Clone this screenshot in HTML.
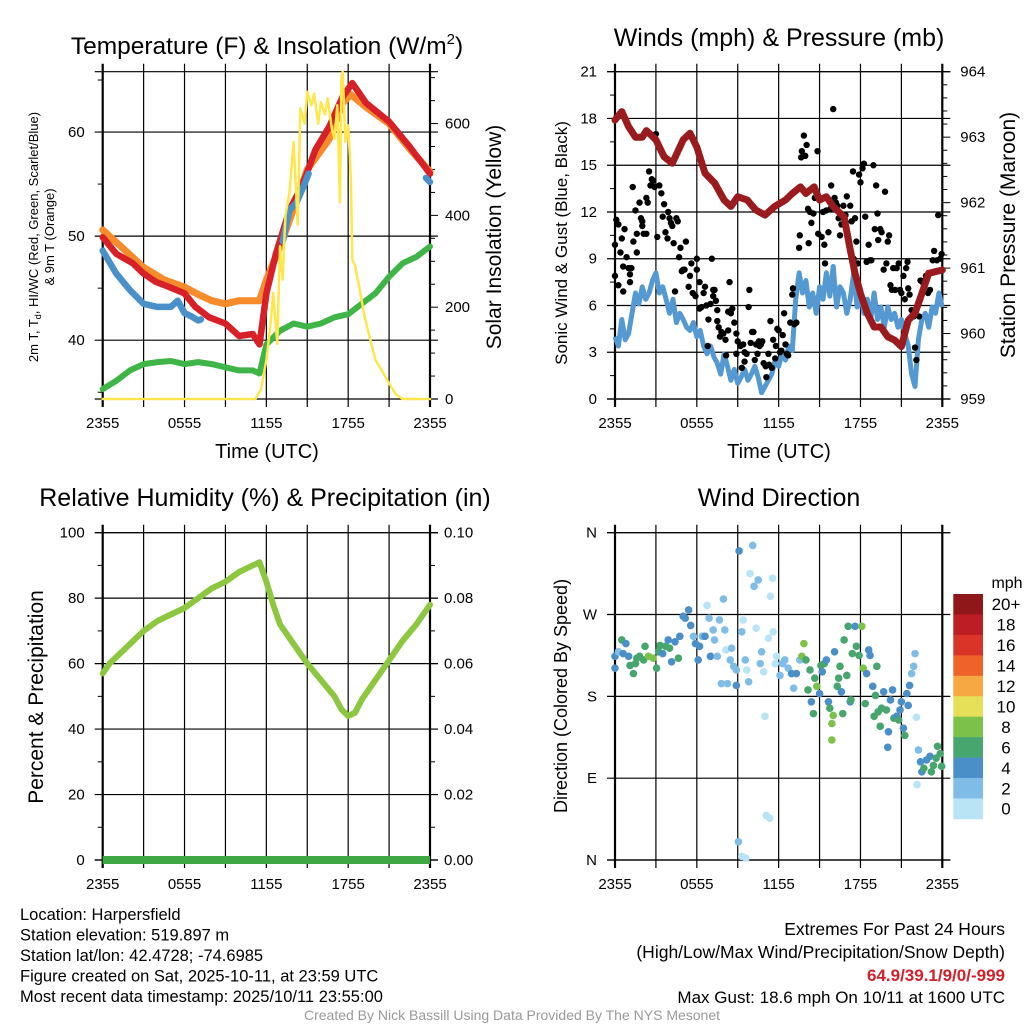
<!DOCTYPE html>
<html><head><meta charset="utf-8"><style>
html,body{margin:0;padding:0;background:#fff}
svg{display:block;font-family:"Liberation Sans",Arial,sans-serif}
</style></head><body>
<svg id="c" width="1024" height="1024" viewBox="0 0 1024 1024">
<rect width="1024" height="1024" fill="#fff"/>
</svg>
<script>
// ---------- DATA ----------
const tempHours=[0,1,2.2,3,3.9,4.9,6,6.8,7.8,9,10,11,11.5,12,12.7,13.7,14.7,15.6,16.6,17.6,18.3,19.3,21,22.5,24];
const tempRed=[49.9,48.3,47.4,46.4,45.6,45.1,44.5,43.2,42.2,41.6,40.4,40.6,39.6,44.5,48.3,52.5,55.1,58.3,60.5,63.4,64.7,62.8,61.0,58.6,56.0];
const orangeHours=[0,1.5,3,4.5,6,7,8,9,10,11.5,12,13,13.7,15,16.6,17.6,18.2,19.3,21,22.5,24];
const tempOrange=[50.6,48.8,47.0,45.8,45.1,44.4,43.8,43.5,43.8,43.8,45.8,49.0,51.5,56.4,59.3,62.8,63.6,62.4,60.8,58.4,56.2];
const blueHours=[0,1,2,3,4,5,5.5,6,6.5,7,7.2,null,13.2,13.7,14.2,14.8,15.1,null,23.7,24];
const tempBlue=[48.6,46.4,44.8,43.5,43.2,43.2,43.8,42.6,42.3,41.9,42.0,null,49.5,52.5,53.2,55.0,56.0,null,55.6,55.2];
const dewHours=[0,1,2,3,4,5,6,7,8,9,10,11,11.5,12,13,14,15,16,17,18,19,20,21,22,23,24];
const tempDew=[35.3,36.1,37.1,37.7,37.9,38.0,37.7,37.9,37.7,37.4,37.1,37.1,36.8,39.6,40.9,41.6,41.3,41.6,42.2,42.5,43.5,44.5,46.1,47.4,48.0,49.0];
const solarHours=[0,11.2,11.6,12,12.3,12.5,12.8,13,13.2,13.4,13.7,14,14.3,14.5,14.8,15,15.3,15.5,15.8,16,16.3,16.5,16.8,17,17.2,17.4,17.5,17.6,17.8,18,18.2,18.3,18.5,18.8,19.2,19.5,20,20.5,21,21.5,22,24];
const solarVals=[0,0,20,85,160,231,120,333,260,400,450,560,380,633,600,669,640,665,600,647,620,655,590,567,640,428,700,713,560,596,480,304,290,246,180,144,85,60,34,10,0,0];
const windHours=[];for(let i=0;i<=96;i++)windHours.push(i*0.25);
const windSpeed=[4.0,3.4,5.1,3.8,4.2,5.5,6.8,6.1,7.2,6.4,6.8,7.6,8.1,6.8,7.2,6.4,5.5,6.4,4.9,5.5,5.1,4.6,4.4,4.9,4.0,4.4,3.4,2.9,3.4,2.7,2.3,1.6,2.9,2.1,1.2,1.9,1.0,1.4,1.9,1.2,1.6,2.1,1.4,0.4,0.8,1.2,1.6,2.5,2.1,2.9,2.5,3.4,3.1,6.4,8.1,6.8,7.6,5.9,6.8,5.5,7.2,6.4,8.1,6.6,8.5,5.9,7.2,6.8,5.5,6.4,8.1,5.9,6.8,5.5,6.4,5.1,6.8,5.1,5.9,4.6,5.9,5.1,5.5,4.6,5.1,4.2,3.4,1.6,0.8,3.8,5.1,5.5,4.6,5.9,5.5,6.8,5.9];
const gustHours=[0,0.1,0.25,0,0.4,0.5,0.25,0.6,0.6,0.7,0.85,1.0,1.1,1.1,1.2,1.35,1.5,1.3,1.6,1.6,1.8,1.9,2.0,2.0,2.1,2.3,2.3,2.4,2.5,2.6,2.7,2.8,2.9,3.0,3.1,3.25,3.4,3.5,3.6,3.7,3.85,3.9,4.0,4.1,4.2,4.3,4.4,4.5,4.6,4.7,4.8,4.9,5.0,5.1,5.2,5.4,5.5,5.6,5.7,5.9,6.0,6.0,6.2,6.2,6.35,6.5,6.6,6.7,6.8,6.85,7.0,7.1,7.2,7.2,7.3,7.4,7.5,7.5,7.6,7.7,7.8,7.95,8.1,8.15,8.3,8.3,8.4,8.5,8.6,8.75,8.9,8.9,9.0,9.2,9.3,9.4,9.5,9.5,9.65,9.8,9.85,9.95,10.05,10.15,10.25,10.35,10.45,10.55,10.6,10.7,10.8,10.9,11.05,11.1,11.25,11.3,11.4,11.5,11.6,11.75,11.8,11.9,12.0,12.1,12.2,12.3,12.4,12.5,12.6,12.7,12.85,13.0,13.05,13.15,13.3,13.5,13.55,13.65,13.7,13.85,14.05,13.95,14.15,14.2,14.3,14.4,14.55,14.65,14.85,14.9,15.0,15.15,15.25,15.35,15.4,15.5,15.65,15.8,15.85,16.0,16.1,16.2,16.3,16.4,16.5,16.6,16.75,16.9,17.0,17.1,17.25,17.35,17.45,17.5,17.6,17.7,17.8,17.9,18.0,18.15,18.25,18.35,18.45,18.6,18.7,18.8,18.95,19.05,19.15,19.25,19.3,19.45,19.55,19.7,19.8,19.9,20.0,20.1,20.2,20.3,20.4,20.55,20.65,20.8,20.9,21.0,21.15,21.25,21.35,21.45,21.5,21.6,21.75,21.9,22.0,22.1,22.3,22.4,22.55,22.7,22.8,22.95,23.1,23.3,23.4,23.6,23.7,23.85,23.95];
const gustSpeed=[9.9,11.5,11.2,7.9,9.4,10.3,7.3,6.9,8.5,10.9,9.1,8.4,8.0,7.5,8.4,10.1,12.1,13.6,10.6,9.4,12.6,11.6,11.4,11.1,10.6,10.6,12.9,12.6,14.6,13.7,14.1,14.0,13.6,17.0,10.4,13.7,13.2,11.7,12.5,10.7,10.3,12.0,11.6,11.3,11.1,10.0,6.9,11.6,11.4,9.1,9.7,8.2,8.3,8.3,10.1,7.2,7.9,8.7,6.8,6.6,9.0,8.3,7.5,5.8,5.9,6.8,7.2,6.0,3.4,5.1,6.1,9.0,7.0,6.6,7.0,6.3,5.7,5.0,4.6,4.0,4.3,4.2,3.8,2.8,5.6,4.4,7.5,5.5,5.8,4.9,4.2,2.9,3.7,3.4,2.0,3.5,3.0,2.4,2.9,5.9,7.0,3.6,4.3,4.3,2.5,3.5,2.9,3.7,3.4,3.5,3.7,2.3,2.1,1.4,2.9,2.2,5.0,2.0,3.8,2.6,3.4,4.5,4.4,3.0,3.1,4.1,5.5,3.5,2.9,2.8,4.9,6.7,7.1,4.8,4.9,9.7,10.5,15.5,15.9,16.9,16.3,15.6,12.2,10.0,12.0,11.3,11.9,12.9,15.9,10.6,12.9,10.4,12.0,9.9,8.7,12.1,10.7,12.2,13.7,18.6,12.9,12.6,12.4,11.6,10.5,11.2,12.4,11.8,13.0,10.4,12.4,11.4,14.6,9.0,11.6,10.1,8.7,14.4,13.9,14.8,15.1,11.7,8.8,9.9,8.9,8.9,15.0,10.9,13.7,11.9,10.2,10.9,10.7,8.3,13.3,8.7,10.1,10.5,7.3,7.0,8.4,7.0,8.4,8.7,7.0,6.8,7.9,6.4,8.4,8.8,7.1,6.7,5.7,5.3,3.3,2.5,5.3,7.6,7.5,7.6,7.9,6.8,7.0,8.9,9.5,8.9,11.8,9.0,9.3];
const presHours=[0,0.5,1,1.5,2,2.3,3,3.6,4.2,5,5.5,6,6.6,7.3,8,8.5,9,9.7,10.3,11,11.7,12.5,13,13.6,14,14.6,15,15.5,16,16.8,17.2,17.6,18,18.5,19,19.5,20,20.5,21,21.5,22,22.5,23,24];
const presVals=[963.26,963.39,963.16,963.0,963.0,963.1,962.96,962.7,962.6,962.96,963.06,962.85,962.45,962.3,962.04,961.94,962.09,962.04,961.89,961.81,961.94,962.04,962.14,962.24,962.14,962.24,962.04,962.09,961.94,961.78,961.33,960.92,960.61,960.31,960.1,960.1,959.95,959.9,959.8,960.2,960.31,960.61,960.92,960.97];
const rhHours=[0,0.5,1,2,3,4,5,6,7,8,9,10,11,11.5,12,12.5,13,14,15,16,17,17.5,18,18.5,19,20,21,22,23,24];
const rhVals=[57,60,62,66,70,73,75,77,80,83,85,88,90,91,85,78,72,66,60,55,50,46,44,45,49,55,61,67,72,78];
const precipHours=[0,24];
const precipVals=[0,0];
const dirHours=[0,0,0.25,0.5,0.6,0.8,1.0,1.1,1.35,1.5,1.6,1.8,2.1,2.2,2.45,2.8,3.05,3.2,3.3,3.5,3.7,3.9,4.0,4.15,4.4,4.65,4.75,5.0,5.15,5.4,5.55,5.75,5.9,6.1,6.2,6.4,6.6,6.75,6.9,7.0,7.2,7.3,7.5,7.65,7.8,7.95,8.05,8.15,8.25,8.45,8.55,8.7,8.9,8.9,9.1,9.3,9.4,9.55,9.65,9.8,9.9,10.1,10.2,10.35,10.5,10.65,10.75,10.9,11.0,11.1,11.25,11.35,11.4,11.55,11.6,11.75,11.85,12.1,12.3,12.45,12.7,12.95,13.1,13.3,13.55,13.7,13.85,14.0,14.15,14.3,14.4,14.55,14.65,14.8,15.0,15.1,15.2,15.35,15.5,15.65,15.75,15.9,16.0,15.9,16.1,16.3,16.4,16.5,16.6,16.7,16.8,17.0,17.1,17.25,17.3,17.4,17.6,17.7,17.9,18.1,18.2,18.35,18.45,18.6,18.7,18.9,19.0,19.1,19.2,19.3,19.45,19.55,19.7,19.9,20.0,20.05,20.2,20.35,20.45,20.65,20.8,20.9,21.0,21.15,21.25,21.4,21.5,21.6,21.75,21.9,22.0,22.1,22.15,22.25,22.4,22.5,22.65,22.85,23.1,23.2,23.35,23.55,23.65,23.85,23.95,9.05,9.3,9.6];
const dirDeg=[224,211,229,242,227,238,224,214,205,216,222,224,220,235,224,222,211,229,236,227,235,242,233,218,240,222,246,268,266,275,258,246,238,220,235,246,246,280,266,224,253,242,224,264,194,287,253,231,194,220,233,213,209,192,340,251,264,220,209,196,315,346,301,255,308,216,229,207,158,49,244,46,290,310,251,216,224,203,216,220,211,205,189,205,220,224,238,220,187,209,174,161,200,191,183,214,207,216,220,174,167,150,159,132,229,191,200,213,185,161,242,203,257,174,176,227,257,235,225,257,211,172,205,231,225,191,158,181,213,163,147,167,185,165,124,141,176,187,156,158,154,165,174,145,137,183,170,192,205,213,227,157,83,121,108,97,101,110,114,97,104,112,125,117,103,20,4,2];
const dirSpeed=[5,5,3,7,5,5,5,7,7,7,7,7,7,7,9,9,7,7,7,5,7,5,7,5,5,7,5,5,5,5,5,3,5,5,5,3,5,1,3,5,3,3,3,3,3,3,3,1,3,3,3,3,3,5,5,3,1,3,1,3,1,3,3,1,3,3,3,1,1,1,1,1,1,1,1,1,1,3,3,3,3,5,3,5,3,9,9,7,7,7,5,7,7,9,5,7,5,7,5,5,7,9,9,9,5,7,7,7,5,7,7,7,7,5,7,7,5,7,7,9,9,7,5,5,5,5,7,7,7,7,7,7,5,7,5,5,5,5,7,5,7,5,5,5,7,5,5,5,3,3,3,1,1,3,5,5,7,5,5,7,7,7,7,7,7,3,1,1];
const binLabels=["20+","18","16","14","12","10","8","6","4","2","0"];
const binColors=["#8f1619","#bd1d25","#da3327","#ef6229","#f6a843","#e5e058","#7cc14a","#47a56e","#4a8fc7","#7fbde6","#b8e4f6"];
const timeTicks=["2355","0555","1155","1755","2355"];
const tTicks=[40,50,60];
const solTicks=[0,200,400,600];
const windTicks=[0,3,6,9,12,15,18,21];
const presTicks=[959,960,961,962,963,964];
const rhTicks=[0,20,40,60,80,100];
const prTicks=["0.00","0.02","0.04","0.06","0.08","0.10"];
const dirTicks=["N","W","S","E","N"];

// ---------- HELPERS ----------
const S=document.getElementById('c');const NS='http://www.w3.org/2000/svg';
function mk(tag,at,parent){const e=document.createElementNS(NS,tag);for(const k in at)e.setAttribute(k,at[k]);(parent||S).appendChild(e);return e;}
function txt(x,y,s,size,anchor,extra,name){const e=mk('text',Object.assign({x:x,y:y,'font-size':size,'text-anchor':anchor||'middle',fill:'#000'},extra||{}));e.textContent=s;


return e;}
function lin(d0,d1,r0,r1){return v=>r0+(v-d0)/(d1-d0)*(r1-r0);}
function pathFrom(hs,vs,fx,fy){let d='',pen=false;for(let i=0;i<hs.length;i++){if(hs[i]===null||vs[i]===null){pen=false;continue;}d+=(pen?'L':'M')+fx(hs[i]).toFixed(1)+' '+fy(vs[i]).toFixed(1);pen=true;}return d;}
const TK=15;

function panel(L,T,R,B,name){
  const g=mk('g',{});
  
  
  const fx=lin(0,24,L,R);
  for(let i=0;i<=8;i++){const x=fx(i*3);const l=mk('line',{x1:x,y1:T-8,x2:x,y2:B+8,stroke:'#000','stroke-width':(i==0||i==8)?2.2:1.2},g);
    
    }
  const tl=mk('line',{x1:L-8,y1:T,x2:R+8,y2:T,stroke:'#000','stroke-width':1.2},g);
  
  
  const bl=mk('line',{x1:L-8,y1:B,x2:R+8,y2:B,stroke:'#000','stroke-width':1.2},g);
  
  
  timeTicks.forEach((t,i)=>{txt(fx(i*6),B+29,t,TK,'middle',{},'x-tick-label');});
  return {g,fx};
}
function hgrid(g,L,R,y,major){const l=mk('line',{x1:L-(major?8:5),y1:y,x2:R+(major?8:0),y2:y,stroke:'#000','stroke-width':major?1.2:1},g);
  
  
  if(!major)l.setAttribute('x2',L);}
function rtick(g,R,y,len){const l=mk('line',{x1:R,y1:y,x2:R+len,y2:y,stroke:'#000','stroke-width':1},g);
  
  }

// ---------- PANEL 1: Temperature ----------
(function(){
  const L=102.7,R=430,T=71.7,B=399;
  const p=panel(L,T,R,B,'temperature-panel');const g=p.g,fx=p.fx;
  const fy=lin(34.35,65.8,B,T);const fs=lin(0,713,B,T);
  [35,45,55,65].forEach(v=>hgrid(g,L,R,fy(v),false));
  tTicks.forEach(v=>{hgrid(g,L,R,fy(v),true);txt(L-18,fy(v)+5,String(v),TK,'end',{},'y-tick-label');});
  for(let v=0;v<=700;v+=50){rtick(g,R,fs(v),v%200==0?8:5);}
  solTicks.forEach(v=>txt(R+15,fs(v)+5,String(v),TK,'start',{},'right-tick-label'));
  const lines=[[dewHours,tempDew,'#3fb548','dewpoint-line',fy,6],[orangeHours,tempOrange,'#f68b2c','temp-9m-line',fy,7],[tempHours,tempRed,'#d72027','temp-2m-line',fy,6.5],[blueHours,tempBlue,'#4b91c9','heat-index-windchill-line',fy,6.5],[solarHours,solarVals,'#fde74c','solar-line',fs,2.5]];
  lines.forEach(a=>{const e=mk('path',{d:pathFrom(a[0],a[1],fx,a[4]),fill:'none',stroke:a[2],'stroke-width':a[5],'stroke-linejoin':'round','stroke-linecap':'round'},g);
    
    });
  const t=txt(267,54,'Temperature (F) & Insolation (W/m',24.5,'middle',{},'temperature-title');
  const sup=mk('tspan',{dy:-10,'font-size':15},t);sup.textContent='2';const cl=mk('tspan',{dy:10},t);cl.textContent=')';
  txt(267,458,'Time (UTC)',20,'middle',{},'x-axis-title');
  const yl=txt(0,0,'',13,'middle',{transform:'translate(38,237) rotate(-90)'},'y-axis-title');
  const a1=mk('tspan',{},yl);a1.textContent='2m T, T';const a2=mk('tspan',{'font-size':9,dy:3},yl);a2.textContent='d';const a3=mk('tspan',{dy:-3},yl);a3.textContent=', HI/WC (Red, Green, Scarlet/Blue)';
  txt(0,0,'& 9m T (Orange)',13,'middle',{transform:'translate(54,237) rotate(-90)'},'y-axis-title-line2');
  txt(0,0,'Solar Insolation (Yellow)',21,'middle',{transform:'translate(501,237) rotate(-90)'},'right-axis-title');
})();

// ---------- PANEL 2: Winds ----------
(function(){
  const L=615,R=942.3,T=71.7,B=399;
  const p=panel(L,T,R,B,'winds-panel');const g=p.g,fx=p.fx;
  const fy=lin(0,21,B,T);const fp=lin(959,964,B,T);
  for(let v=1.5;v<21;v+=3)hgrid(g,L,R,fy(v),false);
  windTicks.forEach(v=>{hgrid(g,L,R,fy(v),true);txt(L-18,fy(v)+5,String(v),TK,'end',{},'y-tick-label');});
  for(let v=959;v<=964.001;v+=0.2){rtick(g,R,fp(v),Math.abs(v-Math.round(v))<0.01?8:5);}
  presTicks.forEach(v=>txt(R+18,fp(v)+5,String(v),TK,'start',{},'right-tick-label'));
  const w=mk('path',{d:pathFrom(windHours,windSpeed,fx,fy),fill:'none',stroke:'#5599d2','stroke-width':5,'stroke-linejoin':'round'},g);
  
  
  gustHours.forEach((h,i)=>{const c=mk('circle',{cx:fx(h),cy:fy(gustSpeed[i]),r:3.2,fill:'#000'},g);
    
    });
  const pr=mk('path',{d:pathFrom(presHours,presVals,fx,fp),fill:'none',stroke:'#991b1e','stroke-width':7,'stroke-linejoin':'round','stroke-linecap':'round'},g);
  
  
  txt(779,46,'Winds (mph) & Pressure (mb)',25,'middle',{},'winds-title');
  txt(779,458,'Time (UTC)',20,'middle',{},'x-axis-title');
  txt(0,0,'Sonic Wind & Gust (Blue, Black)',17,'middle',{transform:'translate(567,243) rotate(-90)'},'y-axis-title');
  txt(0,0,'Station Pressure (Maroon)',21,'middle',{transform:'translate(1015,235) rotate(-90)'},'right-axis-title');
})();

// ---------- PANEL 3: RH ----------
(function(){
  const L=102.7,R=430,T=532.7,B=860;
  const p=panel(L,T,R,B,'humidity-panel');const g=p.g,fx=p.fx;
  const fy=lin(0,100,B,T);
  [10,30,50,70,90].forEach(v=>hgrid(g,L,R,fy(v),false));
  rhTicks.forEach((v,i)=>{hgrid(g,L,R,fy(v),true);txt(L-18,fy(v)+5,String(v),TK,'end',{},'y-tick-label');rtick(g,R,fy(v),8);txt(R+14,fy(v)+5,prTicks[i],TK,'start',{},'right-tick-label');});
  for(let v=10;v<100;v+=20)rtick(g,R,fy(v),5);
  const rh=mk('path',{d:pathFrom(rhHours,rhVals,fx,fy),fill:'none',stroke:'#8dc63f','stroke-width':6,'stroke-linejoin':'round','stroke-linecap':'round'},g);
  
  
  const fpz=lin(0,0.1,B,T);
  const pp=mk('path',{d:pathFrom(precipHours,precipVals,fx,fpz),fill:'none',stroke:'#3fa845','stroke-width':8},g);
  
  
  txt(265,506,'Relative Humidity (%) & Precipitation (in)',25,'middle',{},'humidity-title');
  txt(0,0,'Percent & Precipitation',21,'middle',{transform:'translate(43,697) rotate(-90)'},'y-axis-title');
})();

// ---------- PANEL 4: Wind direction ----------
(function(){
  const L=615,R=942.3,T=532.7,B=860;
  const p=panel(L,T,R,B,'wind-direction-panel');const g=p.g,fx=p.fx;
  const fy=lin(0,360,B,T);
  dirTicks.forEach((s,i)=>{const y=fy(360-i*90);hgrid(g,L,R,y,true);txt(L-18,y+5,s,TK,'end',{},'y-tick-label');});
  const bin=s=>binColors[10-Math.min(10,Math.floor(s/2))];
  dirHours.forEach((h,i)=>{const c=mk('circle',{cx:fx(h),cy:fy(dirDeg[i]),r:3.8,fill:bin(dirSpeed[i])},g);
    
    });
  txt(779,506,'Wind Direction',25,'middle',{},'wind-direction-title');
  txt(0,0,'Direction (Colored By Speed)',18,'middle',{transform:'translate(567,696) rotate(-90)'},'y-axis-title');
  const cb=mk('g',{});
  
  
  const top=594,h=20.45;
  binColors.forEach((c,i)=>{const r=mk('rect',{x:953.3,y:top+i*h,width:29.7,height:h+0.3,fill:c},cb);
    
    
    txt(1006,top+i*h+h/2+6,binLabels[i],17,'middle',{},'colorbar-label');});
  txt(1007,588,'mph',16,'middle',{},'colorbar-title');
})();

// ---------- FOOTER ----------
const foot=["Location: Harpersfield","Station elevation: 519.897 m","Station lat/lon: 42.4728; -74.6985","Figure created on Sat, 2025-10-11, at 23:59 UTC","Most recent data timestamp: 2025/10/11 23:55:00"];
foot.forEach((s,i)=>txt(20,920+i*20.5,s,16.5,'start',{},'station-info-line'));
txt(1005,935,'Extremes For Past 24 Hours',17.5,'end',{},'extremes-title');
txt(1005,958,'(High/Low/Max Wind/Precipitation/Snow Depth)',17.5,'end',{},'extremes-subtitle');
txt(1005,981,'64.9/39.1/9/0/-999',17,'end',{fill:'#d2202a','font-weight':'bold'},'extremes-values');
txt(1005,1003,'Max Gust: 18.6 mph On 10/11 at 1600 UTC',17,'end',{},'max-gust');
txt(512,1020,'Created By Nick Bassill Using Data Provided By The NYS Mesonet',14,'middle',{fill:'#999'},'credit');
</script>
</body></html>
